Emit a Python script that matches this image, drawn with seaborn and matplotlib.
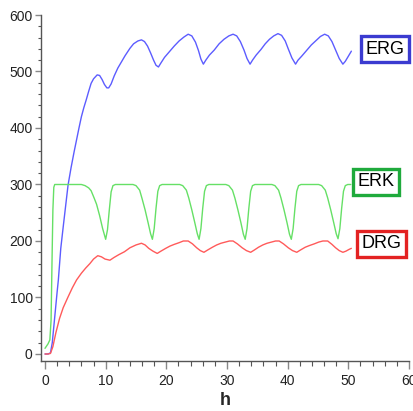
import matplotlib
matplotlib.use("Agg")
import matplotlib.pyplot as plt
from matplotlib.ticker import MultipleLocator
import seaborn as sns

# ---------------- data ----------------
t_erg = [0, 0.5, 0.9, 1.2, 1.6, 2.0, 2.2, 2.6, 3.0, 3.4, 3.8, 4.3, 4.8, 5.2, 5.6, 6.0,
         6.4, 6.8, 7.2, 7.6, 8.0, 8.6, 9.0, 9.4, 9.8, 10.2, 10.5, 10.9, 11.4, 12.0,
         12.6, 13.2, 14.0, 14.6, 15.3, 15.9, 16.4, 16.9, 17.4, 17.9, 18.3, 18.7,
         19.1, 19.7, 20.5, 21.3, 22.1, 22.9, 23.6, 24.2, 24.8, 25.3, 25.7, 26.1,
         26.5, 27.1, 27.9, 28.7, 29.5, 30.3, 31.0, 31.6, 32.2, 32.8, 33.3, 33.8,
         34.2, 34.8, 35.6, 36.3, 37.0, 37.7, 38.4, 39.0, 39.6, 40.1, 40.7, 41.3,
         41.7, 42.3, 43.1, 43.9, 44.7, 45.4, 46.1, 46.7, 47.3, 47.9, 48.5, 49.1,
         49.5, 50.0, 50.5]
v_erg = [0, 0, 2, 20, 65, 110, 131, 187, 225, 262, 299, 330, 358, 379, 400, 420,
         436, 450, 465, 479, 487, 494, 493, 486, 477, 471, 471, 478, 492, 506,
         517, 528, 541, 549, 554, 556, 553, 545, 533, 520, 511, 508,
         515, 525, 535, 545, 554, 561, 566, 563, 552, 537, 522, 513,
         520, 529, 538, 549, 557, 563, 566, 563, 553, 538, 523, 513,
         520, 529, 539, 549, 557, 563, 567, 564, 554, 540, 524, 513,
         520, 527, 537, 547, 555, 562, 566, 563, 553, 538, 523, 513,
         518, 527, 536]

t_erk = [0, 0.5, 0.8, 1.0, 1.15, 1.3, 1.45, 1.6, 6.0, 6.6, 7.2, 7.6, 8.1, 8.5, 9.0,
         9.5, 10.0, 10.3, 10.6, 10.9, 11.2, 11.6,
         14.5, 15.0, 15.6, 16.0, 16.5, 17.0, 17.4, 17.7, 18.0, 18.3, 18.6, 18.9, 19.3,
         22.2, 22.7, 23.3, 23.7, 24.2, 24.7, 25.1, 25.4, 25.7, 26.0, 26.3, 26.6, 27.0,
         29.8, 30.3, 30.9, 31.3, 31.8, 32.3, 32.7, 33.0, 33.3, 33.6, 33.9, 34.2, 34.6,
         37.4, 37.9, 38.5, 38.9, 39.4, 39.9, 40.3, 40.6, 40.9, 41.2, 41.5, 41.8, 42.2,
         45.1, 45.6, 46.2, 46.6, 47.1, 47.6, 48.0, 48.3, 48.6, 48.9, 49.2, 49.5, 49.9,
         50.4]
v_erk = [10, 18, 25, 60, 160, 255, 295, 300, 300, 298, 294, 289, 276, 265, 245,
         222, 203, 220, 255, 287, 298, 300,
         300, 298, 290, 275, 255, 232, 213, 203, 222, 258, 288, 298, 300,
         300, 298, 290, 276, 255, 232, 213, 203, 222, 258, 288, 298, 300,
         300, 298, 290, 276, 255, 232, 212, 203, 222, 258, 288, 298, 300,
         300, 298, 290, 276, 255, 232, 212, 203, 222, 258, 288, 298, 300,
         300, 298, 290, 276, 255, 232, 213, 204, 222, 258, 288, 298, 300,
         300]

t_drg = [0, 0.5, 0.9, 1.3, 1.8, 2.4, 3.0, 3.8, 4.5, 5.2, 6.0, 6.7, 7.4, 8.0, 8.7,
         9.3, 9.9, 10.7, 11.4, 12.2, 13.1, 14.0, 15.0, 15.9, 16.5, 17.1, 17.8, 18.5,
         19.1, 19.9, 20.6, 21.3, 22.1, 22.8, 23.6, 24.3, 25.0, 25.6, 26.2,
         26.8, 27.6, 28.3, 29.0, 29.7, 30.4, 31.0, 31.7, 32.5, 33.2, 33.9,
         34.5, 35.2, 35.9, 36.6, 37.3, 38.0, 38.6, 39.3, 40.1, 40.8, 41.5,
         42.1, 42.9, 43.6, 44.4, 45.1, 45.8, 46.6, 47.3, 47.9, 48.5, 49.1,
         49.6, 50.1, 50.5]
v_drg = [0, 0, 1, 13, 38, 63, 82, 101, 117, 131, 143, 152, 160, 168, 174,
         172, 168, 166, 171, 176, 181, 188, 193, 196, 193, 187, 182, 178,
         182, 187, 191, 194, 197, 200, 200, 195, 188, 183, 180,
         184, 189, 193, 196, 198, 200, 200, 195, 188, 183, 180,
         184, 189, 193, 196, 198, 200, 200, 195, 188, 183, 180,
         184, 189, 192, 195, 198, 200, 200, 194, 188, 183, 180,
         182, 185, 187]

labels = ["ERG", "ERK", "DRG"]
line_colors = ["#5c5cff", "#66e066", "#ff5a5a"]
box_colors = ["#3b3bd0", "#1faa3c", "#e32222"]
label_pos = [(56.0, 539), (54.5, 305), (55.4, 195)]

x_ticks = [0, 10, 20, 30, 40, 50, 60]
y_ticks = [0, 100, 200, 300, 400, 500, 600]

# ---------------- drawing ----------------
sns.set_style("ticks")
plt.rcParams["font.family"] = ["Liberation Sans Narrow", "Liberation Sans", "DejaVu Sans"]

fig = plt.figure(figsize=(4.14, 4.11), dpi=100)
ax = fig.add_axes([41 / 414, 1 - 361 / 411, 368 / 414, (361 - 15) / 411])

series = [(t_erg, v_erg), (t_erk, v_erk), (t_drg, v_drg)]
for (t, v), c in zip(series, line_colors):
    sns.lineplot(x=t, y=v, color=c, linewidth=1.0, sort=False,
                 estimator=None, ax=ax)

for lab, (tx, ty), ec in zip(labels, label_pos, box_colors):
    ax.text(tx, ty, lab, ha="center", va="center", fontsize=13, color="black",
            bbox=dict(boxstyle="square,pad=0.25", fc="white", ec=ec, lw=2.4),
            clip_on=False, zorder=5)

ax.set_xlim(-0.66, 60)
ax.set_ylim(-12.4, 600)
ax.set_xticks(x_ticks)
ax.set_yticks(y_ticks)
ax.xaxis.set_minor_locator(MultipleLocator(2))
ax.yaxis.set_minor_locator(MultipleLocator(20))

for side in ["top", "right"]:
    ax.spines[side].set_visible(False)
for side in ["left", "bottom"]:
    ax.spines[side].set_color("#555555")
    ax.spines[side].set_linewidth(1.0)

ax.tick_params(axis="x", which="major", length=5.5, width=1.0, color="#888888",
               labelsize=10, labelcolor="#222222", pad=4)
ax.tick_params(axis="x", which="minor", length=3.5, width=0.8, color="#555555")
ax.tick_params(axis="y", which="major", length=4.5, width=1.0, color="#888888",
               labelsize=10, labelcolor="#222222", pad=1.5)
ax.tick_params(axis="y", which="minor", length=2.5, width=0.8, color="#555555")

ax.set_xlabel("h", fontsize=13, fontweight="bold", labelpad=3)
ax.set_ylabel("")

fig.savefig("out.png", dpi=100)
